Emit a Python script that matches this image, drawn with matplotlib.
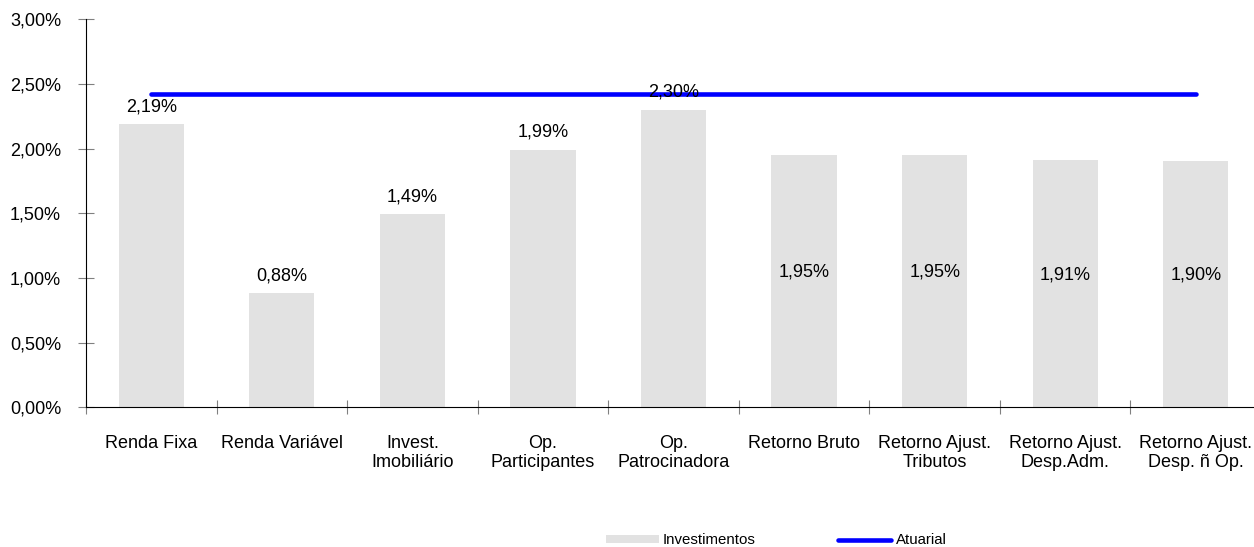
import matplotlib.pyplot as plt
from matplotlib.ticker import FuncFormatter

plt.rcParams['font.family'] = ['Liberation Sans', 'DejaVu Sans']

categorias = ['Renda Fixa', 'Renda Variável', 'Invest.\nImobiliário', 'Op.\nParticipantes',
              'Op.\nPatrocinadora', 'Retorno Bruto', 'Retorno Ajust.\nTributos',
              'Retorno Ajust.\nDesp.Adm.', 'Retorno Ajust.\nDesp. ñ Op.']
investimentos = [2.19, 0.88, 1.49, 1.99, 2.30, 1.95, 1.95, 1.91, 1.90]
atuarial = [2.42] * 9
rotulo_dentro = [False, False, False, False, False, True, True, True, True]


def pct(v):
    return ('%.2f%%' % v).replace('.', ',')


fig = plt.figure(figsize=(12.54, 5.47), dpi=100)
ax = fig.add_axes([0.0686, 0.2555, 0.937, 0.7095])

x = list(range(len(categorias)))
bars = ax.bar(x, investimentos, width=0.5, color='#e2e2e2', label='Investimentos', zorder=1)
ax.plot(x, atuarial, color='#0000ff', lw=3.3, solid_capstyle='round', label='Atuarial', zorder=2)

for xi, v, dentro in zip(x, investimentos, rotulo_dentro):
    if dentro:
        ax.text(xi, v / 2 + 0.07, pct(v), ha='center', va='center', fontsize=13, zorder=3)
    else:
        ax.annotate(pct(v), (xi, v), xytext=(0, 12.5), textcoords='offset points',
                    ha='center', va='center', fontsize=13, zorder=3)

ax.set_xlim(-0.5, len(categorias) - 0.5)
ax.set_ylim(0, 3.0)
ax.set_yticks([0, 0.5, 1.0, 1.5, 2.0, 2.5, 3.0])
ax.yaxis.set_major_formatter(FuncFormatter(lambda v, p: pct(v)))
ax.set_xticks([i + 0.5 for i in range(-1, len(categorias))])
ax.set_xticklabels([])
ax.set_xticks(x, minor=True)
ax.set_xticklabels(categorias, minor=True, fontsize=13, linespacing=1.12)
ax.tick_params(axis='x', which='minor', length=0, pad=20)
ax.tick_params(axis='x', which='major', direction='inout', length=10, color='#808080')
ax.tick_params(axis='y', direction='inout', length=11, labelsize=13, color='#808080', pad=12.5)

for s in ['top', 'right']:
    ax.spines[s].set_visible(False)

fig.legend(handles=[bars, ax.lines[0]], labels=['Investimentos', 'Atuarial'],
           loc='center', bbox_to_anchor=(0.619, 0.012), ncol=2, frameon=False,
           fontsize=10.8, columnspacing=5.5, handlelength=3.5, handletextpad=0.3,
           borderpad=0, handleheight=0.5)

fig.savefig('out.png', dpi=100)
